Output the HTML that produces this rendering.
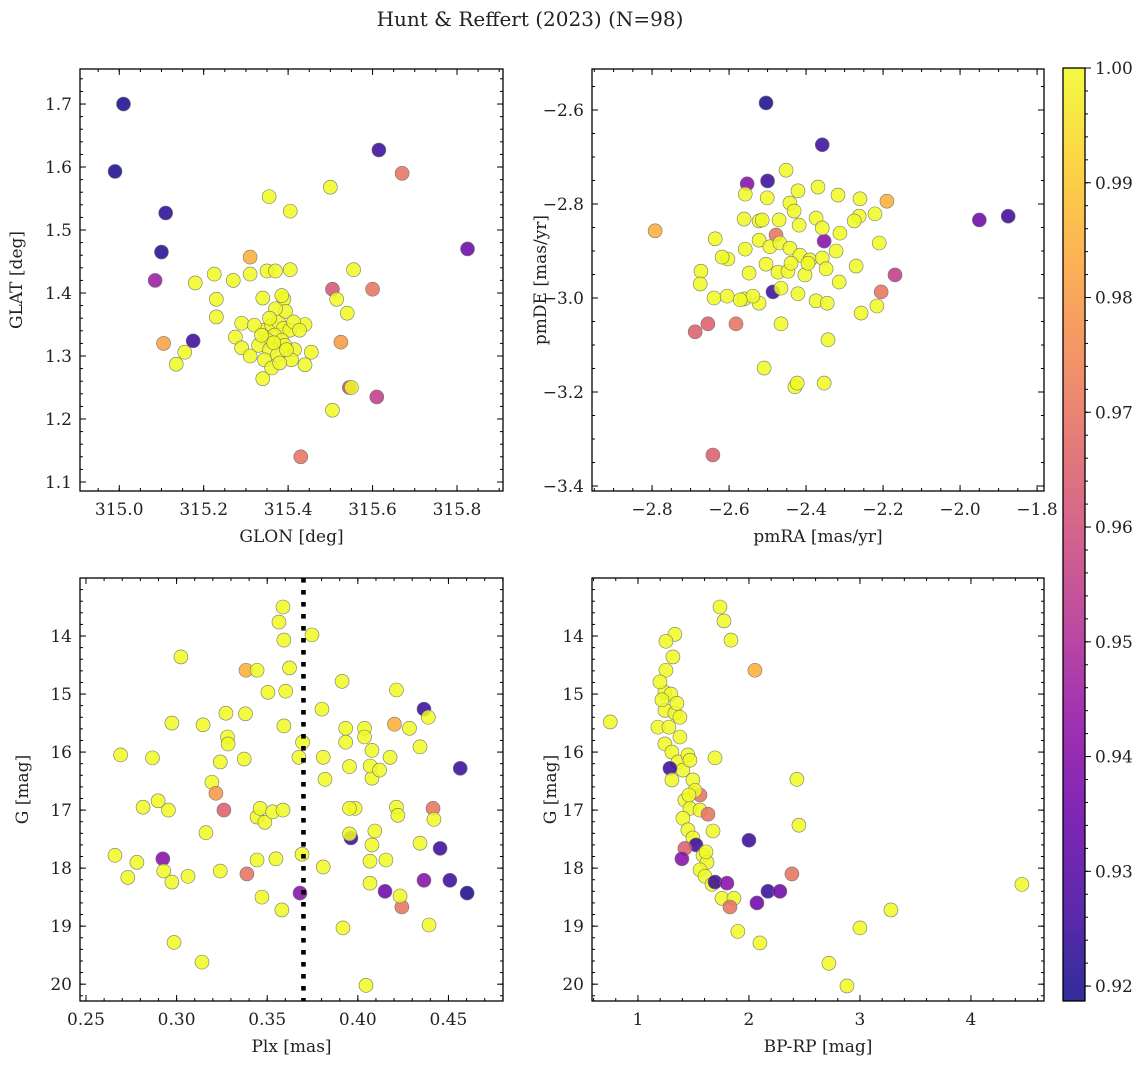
<!DOCTYPE html>
<html><head><meta charset="utf-8"><style>
body{margin:0;background:#fff}
svg text{font-family:"DejaVu Serif","Liberation Serif",serif;fill:#222}
</style></head><body>
<svg id="fig" width="1148" height="1068" xmlns="http://www.w3.org/2000/svg">
<defs><linearGradient id="plasma" x1="0" y1="1" x2="0" y2="0">
<stop offset="0" stop-color="#0d0887"/><stop offset="0.1" stop-color="#41049d"/><stop offset="0.2" stop-color="#6a00a8"/><stop offset="0.3" stop-color="#8f0da4"/><stop offset="0.4" stop-color="#b12a90"/><stop offset="0.5" stop-color="#cc4778"/><stop offset="0.6" stop-color="#e16462"/><stop offset="0.7" stop-color="#f2844b"/><stop offset="0.8" stop-color="#fca636"/><stop offset="0.9" stop-color="#fcce25"/><stop offset="1" stop-color="#f0f921"/></linearGradient></defs>
<text x="530" y="26" font-size="20" text-anchor="middle">Hunt &amp; Reffert (2023) (N=98)</text>
</svg>
<script>
// Panel 1: GLON, GLAT, probability
const p1Glon=[315.01,314.99,315.11,315.10,315.085,315.175,315.105,315.615,315.67,315.825,315.5,315.355,315.405,315.31,315.225,315.27,315.18,315.31,315.35,315.37,315.405,315.555,315.505,315.6,315.23,315.515,315.34,315.39,315.385,315.23,315.29,315.275,315.54,315.525,315.155,315.135,315.29,315.31,315.34,315.44,315.455,315.415,315.44,315.545,315.55,315.505,315.61,315.43,315.344,315.361,315.377,315.389,315.404,315.368,315.351,315.385,315.33,315.356,315.392,315.375,315.408,315.344,315.361,315.32,315.394,315.37,315.356,315.413,315.427,315.337,315.396,315.366,315.38];
const p1Glat=[1.70,1.593,1.527,1.465,1.42,1.324,1.32,1.627,1.59,1.47,1.568,1.553,1.53,1.457,1.43,1.42,1.416,1.43,1.435,1.435,1.437,1.437,1.406,1.406,1.39,1.39,1.392,1.39,1.396,1.362,1.352,1.33,1.368,1.322,1.306,1.287,1.313,1.30,1.264,1.286,1.306,1.31,1.35,1.25,1.25,1.214,1.235,1.14,1.341,1.349,1.354,1.344,1.341,1.333,1.325,1.325,1.317,1.31,1.317,1.302,1.294,1.294,1.281,1.349,1.371,1.375,1.36,1.354,1.341,1.333,1.31,1.321,1.289];
const p1Prob=[0.92,0.92,0.922,0.922,0.945,0.925,0.982,0.925,0.97,0.935,1,1,1,0.985,1,1,1,1,1,1,1,1,0.962,0.97,1,1,1,1,1,1,1,1,1,0.98,1,1,1,1,1,1,1,1,1,0.958,1,1,0.955,0.97,1,1,1,1,1,1,1,1,1,1,1,1,1,1,1,1,1,1,1,1,1,1,1,1,1];
// Panel 2: pmRA, pmDE, probability
const p2PmRA=[-2.504,-2.358,-2.50,-2.553,-2.792,-1.95,-1.875,-2.19,-2.169,-2.205,-2.478,-2.353,-2.486,-2.655,-2.688,-2.642,-2.582,-2.452,-2.369,-2.317,-2.26,-2.558,-2.501,-2.442,-2.421,-2.431,-2.374,-2.522,-2.47,-2.418,-2.358,-2.312,-2.262,-2.275,-2.221,-2.561,-2.514,-2.636,-2.603,-2.558,-2.522,-2.494,-2.468,-2.442,-2.416,-2.39,-2.358,-2.322,-2.27,-2.21,-2.618,-2.548,-2.504,-2.473,-2.447,-2.403,-2.348,-2.314,-2.673,-2.675,-2.639,-2.605,-2.561,-2.522,-2.465,-2.421,-2.374,-2.345,-2.257,-2.216,-2.538,-2.465,-2.509,-2.429,-2.423,-2.353,-2.343,-2.571,-2.439,-2.395];
const p2PmDE=[-2.585,-2.674,-2.751,-2.757,-2.857,-2.834,-2.826,-2.794,-2.951,-2.987,-2.866,-2.879,-2.987,-3.055,-3.072,-3.334,-3.055,-2.728,-2.764,-2.781,-2.789,-2.779,-2.787,-2.798,-2.772,-2.815,-2.83,-2.836,-2.834,-2.845,-2.851,-2.862,-2.826,-2.836,-2.821,-2.832,-2.834,-2.874,-2.917,-2.896,-2.877,-2.891,-2.883,-2.894,-2.909,-2.919,-2.915,-2.9,-2.932,-2.883,-2.913,-2.947,-2.928,-2.945,-2.943,-2.951,-2.938,-2.966,-2.943,-2.97,-3.0,-2.996,-3.002,-3.011,-2.979,-2.991,-3.006,-3.011,-3.032,-3.017,-2.996,-3.055,-3.149,-3.189,-3.181,-3.181,-3.089,-3.004,-2.926,-2.926];
const p2Prob=[0.92,0.925,0.925,0.94,0.985,0.935,0.925,0.985,0.955,0.97,0.97,0.94,0.925,0.965,0.965,0.965,0.97,1,1,1,1,1,1,1,1,1,1,1,1,1,1,1,1,1,1,1,1,1,1,1,1,1,1,1,1,1,1,1,1,1,1,1,1,1,1,1,1,1,1,1,1,1,1,1,1,1,1,1,1,1,1,1,1,1,1,1,1,1,1,1];
// Panel 3: Plx, G, probability
const p3Plx=[0.3587,0.3565,0.3592,0.3747,0.3024,0.3383,0.3444,0.3623,0.3504,0.3602,0.3913,0.4213,0.4365,0.2974,0.3146,0.3272,0.3380,0.3592,0.3802,0.3933,0.4037,0.4202,0.4285,0.4389,0.3281,0.3695,0.3933,0.4037,0.2691,0.2867,0.3284,0.3241,0.3373,0.3675,0.3809,0.4078,0.4178,0.4343,0.4565,0.3195,0.3819,0.3954,0.4078,0.4068,0.412,0.3217,0.4415,0.4213,0.3985,0.4221,0.3954,0.2955,0.2815,0.2898,0.3162,0.3261,0.3444,0.3461,0.3487,0.3530,0.3587,0.3962,0.3954,0.4343,0.4420,0.4094,0.4078,0.3444,0.3388,0.3548,0.2660,0.2781,0.2731,0.2924,0.2929,0.2974,0.3063,0.3241,0.3471,0.3581,0.3681,0.3692,0.3809,0.4067,0.4155,0.4454,0.4067,0.4150,0.4243,0.4365,0.4508,0.4603,0.4233,0.4393,0.3918,0.2986,0.3140,0.4045];
const p3G=[13.50,13.76,14.07,13.98,14.36,14.59,14.59,14.55,14.97,14.95,14.78,14.93,15.26,15.5,15.53,15.33,15.34,15.55,15.26,15.59,15.59,15.52,15.59,15.4,15.74,15.83,15.83,15.74,16.05,16.1,15.86,16.17,16.12,16.09,16.09,15.97,16.09,15.91,16.28,16.52,16.47,16.25,16.45,16.24,16.31,16.71,16.97,16.95,16.97,17.09,16.97,17.0,16.95,16.84,17.39,17.0,17.12,16.97,17.21,17.03,17.0,17.48,17.41,17.57,17.16,17.36,17.6,17.86,18.10,17.84,17.78,17.90,18.16,17.84,18.05,18.24,18.14,18.05,18.5,18.72,18.43,17.76,17.98,17.88,17.86,17.66,18.26,18.40,18.67,18.21,18.21,18.43,18.48,18.98,19.03,19.28,19.62,20.02];
const p3Prob=[1,1,1,1,1,0.985,1,1,1,1,1,1,0.925,1,1,1,1,1,1,1,1,0.985,1,1,1,1,1,1,1,1,1,1,1,1,1,1,1,1,0.925,1,1,1,1,1,1,0.98,0.97,1,1,1,1,1,1,1,1,0.965,1,1,1,1,1,0.925,1,1,1,1,1,1,0.97,1,1,1,1,0.94,1,1,1,1,1,1,0.94,1,1,1,1,0.925,1,0.935,0.97,0.94,0.925,0.92,1,1,1,1,1,1];
// Panel 4: BP-RP, G, probability
const p4Color=[1.739,1.775,1.838,1.333,1.252,2.054,1.252,1.315,0.75,1.243,1.297,1.243,1.333,1.18,1.279,1.378,1.243,1.306,1.36,1.45,1.694,1.405,1.288,1.306,1.495,1.559,2.432,2.45,1.676,1.423,1.468,1.559,1.405,1.631,1.45,1.495,1.523,2.0,1.423,1.586,1.622,1.613,1.396,1.559,1.604,1.667,1.694,1.802,2.387,1.757,1.865,1.829,2.072,2.171,2.279,1.9,2.099,4.459,3.279,3.0,2.72,2.883,1.198,1.216,1.351,1.378,1.468,1.514,1.459];
const p4G=[13.50,13.74,14.07,13.97,14.09,14.59,14.59,14.36,15.48,14.97,15.0,15.28,15.33,15.57,15.57,15.74,15.86,16.0,16.17,16.05,16.1,16.31,16.28,16.48,16.48,16.74,16.47,17.26,17.36,16.83,16.97,17.0,17.14,17.07,17.34,17.48,17.6,17.52,17.66,17.78,17.9,17.72,17.84,18.03,18.14,18.28,18.24,18.26,18.10,18.52,18.52,18.67,18.60,18.40,18.40,19.09,19.29,18.28,18.72,19.03,19.64,20.03,14.79,15.1,15.16,15.4,16.14,16.66,16.74];
const p4Prob=[1,1,1,1,1,0.985,1,1,1,1,1,1,1,1,1,1,1,1,1,1,1,1,0.925,1,1,0.97,1,1,1,1,1,1,1,0.97,1,1,0.925,0.925,0.965,1,1,1,0.94,1,1,1,0.925,0.94,0.97,1,1,0.97,0.935,0.925,0.935,1,1,1,1,1,1,1,1,1,1,1,1,1,1];
const p1XTicks=[315.0,315.2,315.4,315.6,315.8], p1YTicks=[1.1,1.2,1.3,1.4,1.5,1.6,1.7];
const p2XTicks=[-2.8,-2.6,-2.4,-2.2,-2.0,-1.8], p2YTicks=[-3.4,-3.2,-3.0,-2.8,-2.6];
const p3XTicks=[0.25,0.30,0.35,0.40,0.45], gTicks=[14,15,16,17,18,19,20];
const p4XTicks=[1,2,3,4];
const cbTicks=[0.92,0.93,0.94,0.95,0.96,0.97,0.98,0.99,1.00];
const plxLine=0.37;

const NS="http://www.w3.org/2000/svg";
const svg=document.getElementById('fig');
const VMIN=0.9187,VMAX=1.0;
const FS=17;
const stops=["#0d0887","#41049d","#6a00a8","#8f0da4","#b12a90","#cc4778","#e16462","#f2844b","#fca636","#fcce25","#f0f921"];
function hex(h){return [1,3,5].map(i=>parseInt(h.substr(i,2),16));}
function cmap(v){let t=Math.max(0,Math.min(1,(v-VMIN)/(VMAX-VMIN)))*10;let i=Math.min(9,Math.floor(t));let f=t-i;let a=hex(stops[i]),b=hex(stops[i+1]);return 'rgb('+a.map((c,k)=>Math.round(c+(b[k]-c)*f)).join(',')+')';}
function mk(tag,attrs,parent){const e=document.createElementNS(NS,tag);for(const k in attrs)e.setAttribute(k,attrs[k]);(parent||svg).appendChild(e);return e;}
function fmt(v,d){return (v<0?'\u2212':'')+Math.abs(v).toFixed(d);}
function panel(o){
  const g=mk('g',{});
  
  
  const sx=v=>o.x0+(v-o.xd[0])/(o.xd[1]-o.xd[0])*(o.x1-o.x0);
  const sy=v=>o.y1-(v-o.yd[0])/(o.yd[1]-o.yd[0])*(o.y1-o.y0);
  const syy=o.inv?(v=>o.y0+(v-o.yd[0])/(o.yd[1]-o.yd[0])*(o.y1-o.y0)):sy;
  for(let i=0;i<o.xs.length;i++){
    const c=mk('circle',{cx:sx(o.xs[i]),cy:syy(o.ys[i]),r:7,fill:cmap(o.ps[i]),'fill-opacity':0.85,stroke:'#777','stroke-width':0.6},g);
    
    
  }
  if(o.vline!==undefined){
    const X=sx(o.vline);
    for(let y=o.y0;y<o.y1;y+=12){
      const seg=mk('rect',{x:X-2.3,y:y,width:4.6,height:Math.min(4.6,o.y1-y),fill:'#000'},g);
      
      
    }
  }
  const fr=mk('rect',{x:o.x0,y:o.y0,width:o.x1-o.x0,height:o.y1-o.y0,fill:'none',stroke:'#000','stroke-width':1.3},g);
  
  
  for(let v=Math.ceil(o.xd[0]/o.xmin-1e-6)*o.xmin;v<=o.xd[1]+1e-9;v+=o.xmin){const X=sx(v);mk('line',{x1:X,x2:X,y1:o.y1,y2:o.y1-3,stroke:'#000'},g);mk('line',{x1:X,x2:X,y1:o.y0,y2:o.y0+3,stroke:'#000'},g);}
  o.xt.forEach(v=>{const X=sx(v);mk('line',{x1:X,x2:X,y1:o.y1,y2:o.y1-6,stroke:'#000'},g);mk('line',{x1:X,x2:X,y1:o.y0,y2:o.y0+6,stroke:'#000'},g);
    const t=mk('text',{x:X,y:o.y1+24,'font-size':FS,'text-anchor':'middle'},g);t.textContent=fmt(v,o.xdp);
    
    });
  const ymap=o.inv?syy:sy;
  for(let v=Math.ceil(o.yd[0]/o.ymin-1e-6)*o.ymin;v<=o.yd[1]+1e-9;v+=o.ymin){const Y=ymap(v);mk('line',{x1:o.x0,x2:o.x0+3,y1:Y,y2:Y,stroke:'#000'},g);mk('line',{x1:o.x1,x2:o.x1-3,y1:Y,y2:Y,stroke:'#000'},g);}
  o.yt.forEach(v=>{const Y=ymap(v);mk('line',{x1:o.x0,x2:o.x0+6,y1:Y,y2:Y,stroke:'#000'},g);mk('line',{x1:o.x1,x2:o.x1-6,y1:Y,y2:Y,stroke:'#000'},g);
    const t=mk('text',{x:o.x0-8,y:Y+6,'font-size':FS,'text-anchor':'end'},g);t.textContent=fmt(v,o.ydp);
    
    });
  const xl=mk('text',{x:(o.x0+o.x1)/2,y:o.y1+51,'font-size':FS,'text-anchor':'middle'},g);xl.textContent=o.xlab;
  
  
  const yl=mk('text',{x:0,y:0,'font-size':FS,'text-anchor':'middle',transform:'translate('+o.ylx+','+((o.y0+o.y1)/2)+') rotate(-90)'},g);yl.textContent=o.ylab;
  
  
}
panel({name:'glon-glat-panel',x0:80,x1:503,y0:69,y1:491,xd:[314.907,315.909],yd:[1.0857,1.7556],xs:p1Glon,ys:p1Glat,ps:p1Prob,xt:p1XTicks,yt:p1YTicks,xmin:0.05,ymin:0.02,xdp:1,ydp:1,xlab:'GLON [deg]',ylab:'GLAT [deg]',ylx:22});
panel({name:'proper-motion-panel',x0:592,x1:1044,y0:69,y1:491,xd:[-2.956,-1.782],yd:[-3.4106,-2.5128],xs:p2PmRA,ys:p2PmDE,ps:p2Prob,xt:p2XTicks,yt:p2YTicks,xmin:0.05,ymin:0.05,xdp:1,ydp:1,xlab:'pmRA [mas/yr]',ylab:'pmDE [mas/yr]',ylx:546});
panel({name:'parallax-magnitude-panel',x0:80,x1:503,y0:578,y1:1001,xd:[0.2467,0.4801],yd:[13.0,20.29],inv:true,xs:p3Plx,ys:p3G,ps:p3Prob,xt:p3XTicks,yt:gTicks,xmin:0.01,ymin:0.2,xdp:2,ydp:0,xlab:'Plx [mas]',ylab:'G [mag]',ylx:28,vline:plxLine});
panel({name:'color-magnitude-panel',x0:592,x1:1044,y0:578,y1:1001,xd:[0.586,4.658],yd:[13.0,20.29],inv:true,xs:p4Color,ys:p4G,ps:p4Prob,xt:p4XTicks,yt:gTicks,xmin:0.2,ymin:0.2,xdp:0,ydp:0,xlab:'BP-RP [mag]',ylab:'G [mag]',ylx:556});
const cb=mk('g',{});


const cx0=1063,cx1=1085,cy0=68,cy1=1001;
const cyv=v=>cy1-(v-VMIN)/(VMAX-VMIN)*(cy1-cy0);
mk('rect',{x:cx0,y:cy0,width:cx1-cx0,height:cy1-cy0,fill:'url(#plasma)','fill-opacity':0.85,stroke:'#000','stroke-width':1.3},cb);
for(let v=0.92;v<=1.0001;v+=0.002){const Y=cyv(v);mk('line',{x1:cx1,x2:cx1+3,y1:Y,y2:Y,stroke:'#000'},cb);}
cbTicks.forEach(v=>{const Y=cyv(v);mk('line',{x1:cx1,x2:cx1+6,y1:Y,y2:Y,stroke:'#000'},cb);
  const t=mk('text',{x:cx1+10,y:Y+6,'font-size':FS},cb);t.textContent=v.toFixed(2);
  
  });
</script>
</body></html>
